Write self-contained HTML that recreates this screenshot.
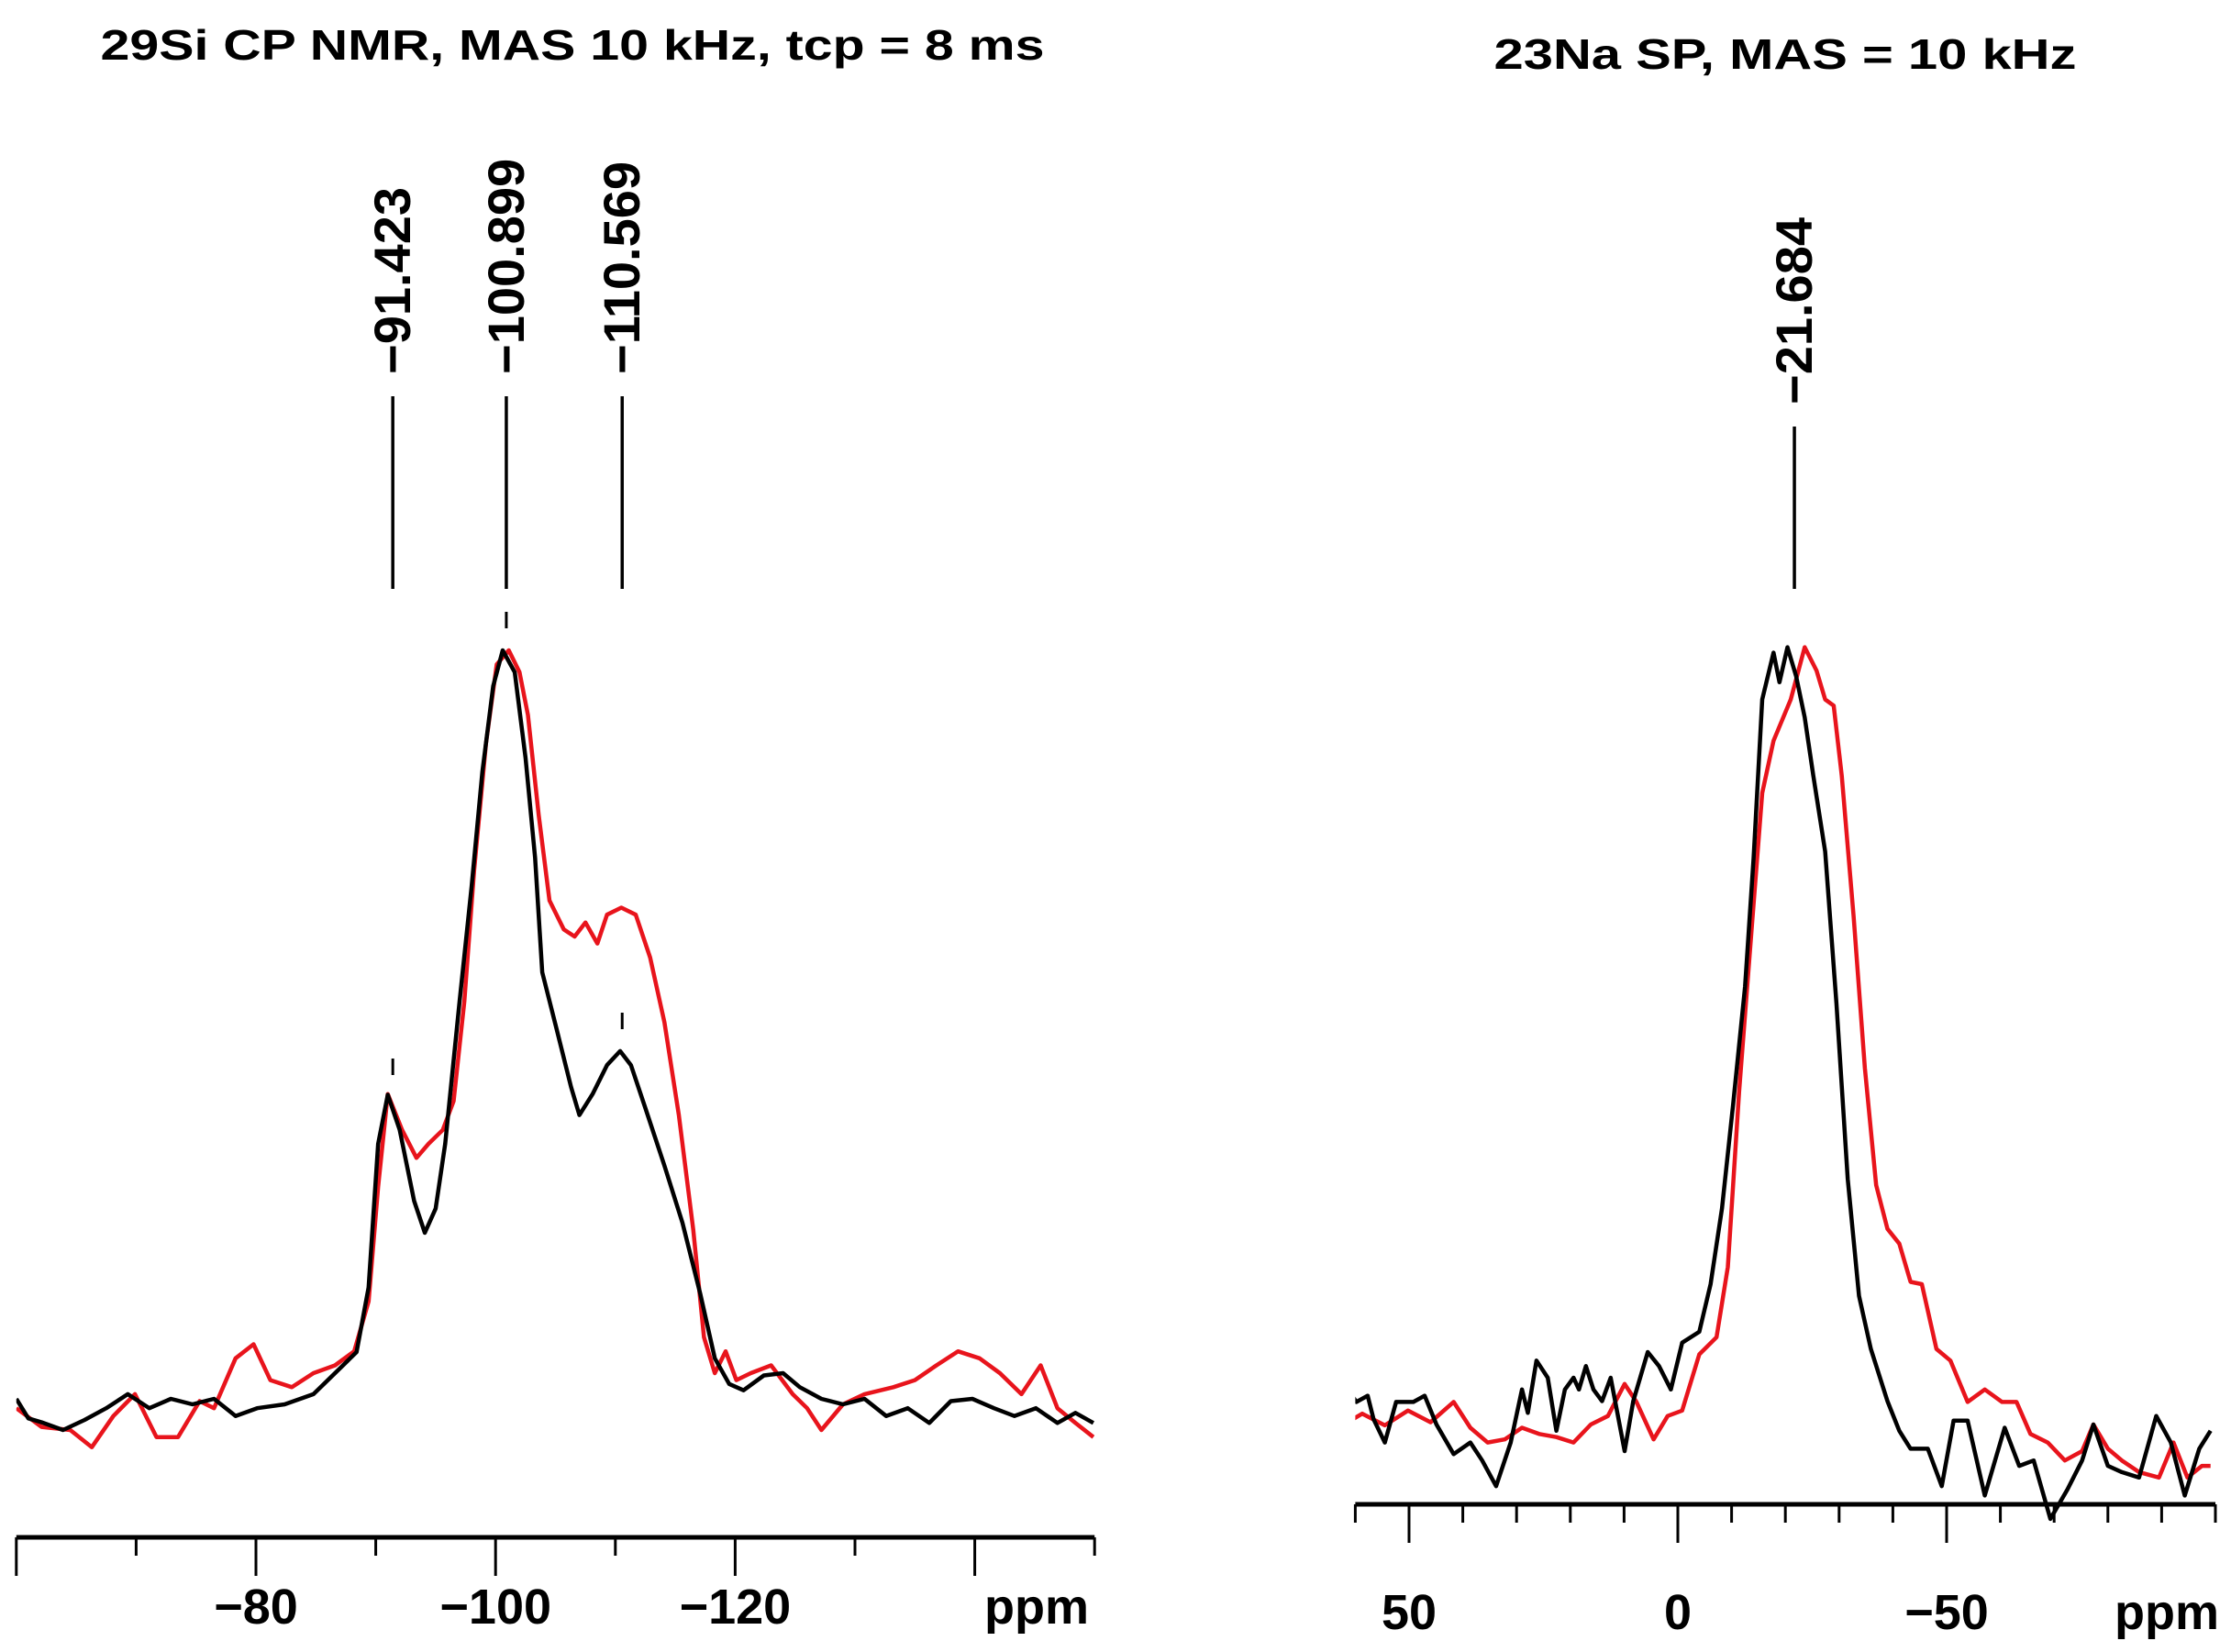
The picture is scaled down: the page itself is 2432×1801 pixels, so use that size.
<!DOCTYPE html>
<html><head><meta charset="utf-8"><style>
html,body{margin:0;padding:0;background:#fff;}
svg{display:block;}
text{font-family:"Liberation Sans",sans-serif;font-weight:bold;fill:#000;}
</style></head><body>
<svg id="chart" width="2432" height="1801" viewBox="0 0 2432 1801" xmlns="http://www.w3.org/2000/svg">
<g id="left"></g>
<g id="right"></g>
</svg>
<script>
const siPpmBlack=[-60,-61,-62.1,-63.9,-65.7,-67.5,-69.3,-71.1,-72.9,-74.7,-76.5,-78.3,-80.1,-82.4,-84.8,-86.6,-88.4,-89.4,-90.2,-91,-92,-93.2,-94.1,-95,-95.8,-97,-98,-98.9,-99.8,-100.6,-101.6,-102.5,-103.3,-103.9,-105.1,-106.3,-107,-108.1,-109.3,-110.4,-111.3,-112.5,-114.1,-115.6,-117.1,-118.3,-119.5,-120.7,-122.4,-124,-125.4,-127.2,-129,-130.8,-132.6,-134.4,-136.2,-138,-139.8,-141.6,-143.3,-145.1,-146.9,-148.4,-149.9];
const siBlack=[4,1.5,1,0,1.3,2.8,4.6,2.8,4,3.3,4,1.8,2.8,3.3,4.6,7.3,10,18.3,36.7,43,38.5,29.4,25.3,28.4,36.7,55,69.7,84.4,95.4,100,97.2,86.2,73.4,58.7,51.4,44,40.4,43.1,46.8,48.6,46.8,41.3,33.9,26.6,17.4,9.2,5.9,5.1,7,7.3,5.5,4,3.3,4,1.8,2.8,0.9,3.7,4,2.8,1.8,2.8,0.9,2.2,0.9];
const siPpmRed=[-60,-62.1,-64.5,-66.3,-68.1,-69.9,-71.7,-73.5,-75.3,-76.5,-78.3,-79.8,-81.2,-83,-84.8,-86.6,-88.2,-89.4,-90.2,-91,-92.2,-93.4,-94.4,-95.6,-96.5,-97.4,-98.2,-99.2,-100.1,-101.1,-102,-102.7,-103.6,-104.5,-105.7,-106.6,-107.5,-108.5,-109.3,-110.5,-111.7,-112.9,-114.1,-115.3,-116.5,-117.4,-118.3,-119.2,-120.1,-121.3,-123,-124.8,-126,-127.2,-129,-130.8,-133.2,-135,-136.8,-138.6,-140.4,-142.1,-143.9,-145.5,-146.9,-148.4,-149.9];
const siRed=[2.8,0.4,0,-2.2,1.8,4.6,-0.9,-0.9,3.7,2.8,9.2,11,6.4,5.5,7.3,8.3,10.1,16.5,31.2,43.1,38.5,34.9,36.7,38.5,42.2,55,71.6,88.1,98.2,100,97.2,91.7,78.9,67.9,64.2,63.3,65.1,62.4,66.1,67,66.1,60.6,52.3,40.4,25.7,11.9,7.3,10.1,6.4,7.3,8.3,4.6,2.8,0,3.3,4.6,5.5,6.4,8.3,10.1,9.2,7.3,4.6,8.3,2.8,0.9,-0.9];
const naPpmBlack=[61.4,59.8,57.7,56.6,54.5,52.4,49.2,47.1,44.9,41.7,38.6,36.4,33.8,31.1,29,27.9,26.3,24.2,22.6,21,19.4,18.4,17.1,15.7,14.1,12.5,9.9,8.3,5.6,3.5,1.3,-0.8,-4,-6.1,-8.2,-10.3,-12.5,-14.1,-15.7,-17.8,-18.9,-20.4,-22,-23.6,-25.2,-27.4,-29.5,-31.6,-33.7,-35.9,-39,-41.2,-43.3,-46.5,-49.1,-51.3,-53.9,-57.1,-60.8,-63.5,-66.2,-69.3,-72.5,-75.2,-77.3,-80,-82.6,-85.8,-89,-91.7,-94.3,-97,-99.1];
const naBlack=[5.2,3.6,4.4,1.4,-1.6,3.6,3.6,4.4,0.7,-3.1,-1.6,-3.9,-7.2,-1.6,5.2,2.2,8.9,6.7,-0.1,5.2,6.7,5.2,8.2,5.2,3.7,6.7,-2.7,3.7,10,8.2,5.2,11.2,12.6,18.7,28.4,41.9,56.9,73.4,93.7,99.7,95.9,100.4,96.7,91.4,83.9,74.2,54.7,32.2,17.2,10.4,3.7,-0.1,-2.4,-2.4,-7.2,1.2,1.2,-8.4,0.3,-4.6,-3.9,-11.4,-7.6,-3.9,0.7,-4.6,-5.4,-6.1,1.8,-1.6,-8.4,-2.4,-0.1];
const naPpmRed=[61.4,58.7,54.5,50.2,46,41.7,38.6,35.4,32.2,29,25.8,22.6,19.4,16.2,13,9.9,7.7,4.5,1.9,-0.8,-4,-7.2,-9.3,-11.4,-13.5,-15.7,-17.8,-21,-23.6,-25.8,-27.4,-29,-30.5,-32.7,-34.8,-36.9,-39,-41.2,-43.3,-45.4,-48.1,-50.7,-53.9,-57.1,-60.3,-63,-65.6,-68.8,-72,-75.2,-77.3,-80,-82.6,-85.8,-89.5,-92.2,-94.8,-97.5,-99.1];
const naRed=[1,2.1,0.6,2.5,1,3.6,0.3,-1.6,-1.2,0.3,-0.5,-0.9,-1.6,0.7,1.8,5.9,3.6,-1.2,1.8,2.5,9.7,11.9,20.9,43.4,62.2,81.7,88.4,93.7,100.4,97.4,93.7,92.9,83.9,65.9,46.4,31.4,25.8,23.9,19,18.7,10.4,8.9,3.6,5.2,3.6,3.6,-0.5,-1.6,-3.9,-2.7,0.7,-2.4,-3.9,-5.4,-6.1,-1.6,-6.1,-4.6,-4.6];
const siTicks=[-80,-100,-120];
const siTickLabels=["−80","−100","−120"];
const naTicks=[50,0,-50];
const naTickLabels=["50","0","−50"];
const siPeaks=[-91.423,-100.899,-110.569];
const siPeakLabels=["−91.423","−100.899","−110.569"];
const naPeaks=[-21.684];
const naPeakLabels=["−21.684"];

const NS="http://www.w3.org/2000/svg";
function el(p,t,a){const e=document.createElementNS(NS,t);for(const k in a)e.setAttribute(k,a[k]);p.appendChild(e);return e;}
const yI=v=>1559-v*8.5;
const xSi=p=>279+(-80-p)*13.06;
const xNa=p=>1829-p*5.86;

function panel(g,xf,lo,hi,axisY,ticks,labels,pB,iB,pR,iR,peaks,plabels,lineTop,title,titleX,titleY,titleW,ppmX,labelY,dashes){
  const clipId=g.id+"clip";
  const cp=el(g,"clipPath",{id:clipId});
  el(cp,"rect",{x:Math.min(xf(lo),xf(hi)),y:0,width:Math.abs(xf(hi)-xf(lo)),height:1801});
  const t=el(g,"text",{x:titleX,y:titleY,"font-size":46,"text-anchor":"middle",textLength:titleW,lengthAdjust:"spacingAndGlyphs"});
  t.textContent=title;
  
  
  const ax=el(g,"line",{x1:xf(lo),x2:xf(hi),y1:axisY,y2:axisY,stroke:"#000","stroke-width":5});
  
  
  for(let p=Math.ceil(Math.max(hi,lo)/10)*10;p>=Math.min(hi,lo);p-=10){
    const major=ticks.includes(p)||(p%20===0&&lo<-55);
    const tk=el(g,"line",{x1:xf(p),x2:xf(p),y1:axisY,y2:axisY+(major?42:20),stroke:"#000","stroke-width":3});
    
    
  }
  ticks.forEach((p,i)=>{
    const tl=el(g,"text",{x:xf(p),y:labelY,"font-size":54,"text-anchor":"middle"});
    tl.textContent=labels[i];
    
    
  });
  const pu=el(g,"text",{x:ppmX,y:labelY,"font-size":54,"text-anchor":"middle"});
  pu.textContent="ppm";
  
  
  function series(ps,is,color,name){
    const d=ps.map((p,i)=>(i?"L":"M")+xf(p).toFixed(1)+","+yI(is[i]).toFixed(1)).join("");
    const s=el(g,"path",{d:d,fill:"none",stroke:color,"stroke-width":4.5,"stroke-linejoin":"round","clip-path":"url(#"+clipId+")"});
    
    
  }
  series(pR,iR,"#e8141c","red-spectrum");
  series(pB,iB,"#000","black-spectrum");
  peaks.forEach((p,i)=>{
    const x=xf(p);
    const pl=el(g,"line",{x1:x,x2:x,y1:lineTop,y2:642,stroke:"#000","stroke-width":3.5});
    
    
    const tx=el(g,"text",{x:0,y:0,"font-size":56,"text-anchor":"start",transform:"translate("+(x+19)+","+(lineTop-24)+") rotate(-90)"});
    tx.textContent=plabels[i];
    
    
  });
  dashes.forEach(d=>{
    const dl=el(g,"line",{x1:xf(d[0]),x2:xf(d[0]),y1:d[1],y2:d[1]+18,stroke:"#000","stroke-width":3});
    
    
  });
}
panel(document.getElementById("left"),xSi,-60,-150,1676,siTicks,siTickLabels,siPpmBlack,siBlack,siPpmRed,siRed,siPeaks,siPeakLabels,432,"29Si CP NMR, MAS 10 kHz, tcp = 8 ms",624,65,1029,1130,1770,[[-91.423,1154],[-100.899,667],[-110.569,1104]]);
panel(document.getElementById("right"),xNa,60,-100,1640,naTicks,naTickLabels,naPpmBlack,naBlack,naPpmRed,naRed,naPeaks,naPeakLabels,465,"23Na SP, MAS = 10 kHz",1946,75,635,2362,1776,[]);
</script>
</body></html>
